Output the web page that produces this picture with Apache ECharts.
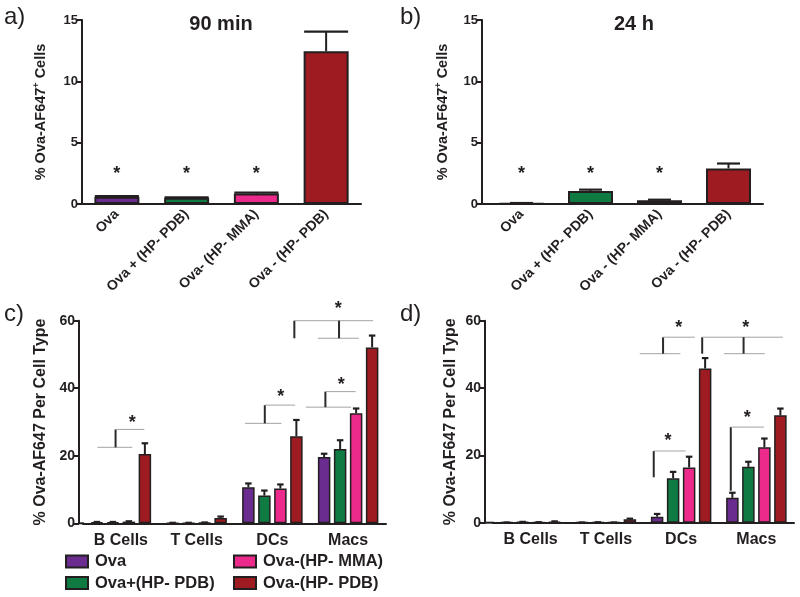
<!DOCTYPE html>
<html>
<head>
<meta charset="utf-8">
<script src="https://cdn.jsdelivr.net/npm/echarts@6/dist/echarts.min.js"></script>
<style>
html,body{margin:0;padding:0;background:#fff;}
#chart{width:800px;height:597px;}
</style>
</head>
<body>
<div id="chart"></div>
<script>
// ---------- data ----------
const topCatsA = ['Ova', 'Ova + (HP- PDB)', 'Ova- (HP- MMA)', 'Ova - (HP- PDB)'];
const topCatsB = ['Ova', 'Ova + (HP- PDB)', 'Ova - (HP- MMA)', 'Ova - (HP- PDB)'];
const min90Vals = [0.6, 0.5, 0.85, 12.45];
const min90Err = [0.05, 0.04, 0.08, 1.6];
const h24Vals = [0.05, 1.05, 0.3, 2.9];
const h24Err = [0.03, 0.12, 0.05, 0.4];
const min90Stars = [[0, 2.75], [1, 2.75], [2, 2.75]];
const h24Stars = [[0, 2.8], [1, 2.8], [2, 2.8]];
const yTicksTop = [0, 5, 10, 15];

const cellTypes = ['B Cells', 'T Cells', 'DCs', 'Macs'];
const seriesNames = ['Ova', 'Ova+(HP- PDB)', 'Ova-(HP- MMA)', 'Ova-(HP- PDB)'];
const cOva = [0.3, 0.1, 10.7, 19.6];
const cOvaErr = [0.1, 0.05, 1.1, 1.0];
const cOvaPlus = [0.3, 0.1, 8.2, 22.0];
const cOvaPlusErr = [0.1, 0.05, 1.5, 2.6];
const cMMA = [0.5, 0.2, 10.3, 32.6];
const cMMAErr = [0.1, 0.05, 1.2, 1.4];
const cPDB = [20.5, 1.6, 25.8, 52.1];
const cPDBErr = [3.2, 0.4, 4.8, 3.5];
const dOva = [0.05, 0.05, 1.8, 7.4];
const dOvaErr = [0.02, 0.02, 0.8, 1.5];
const dOvaPlus = [0.2, 0.1, 13.2, 16.6];
const dOvaPlusErr = [0.05, 0.05, 1.9, 1.5];
const dMMA = [0.1, 0.05, 16.4, 22.4];
const dMMAErr = [0.05, 0.02, 3.2, 2.6];
const dPDB = [0.3, 1.0, 45.8, 31.9];
const dPDBErr = [0.1, 0.2, 3.1, 2.0];
const yTicksBottom = [0, 20, 40, 60];

// significance brackets: [x1 (category units), v1, x2, v2, dark?]
const cBrackets = [
  [-0.31, 22.5, 0.15, 22.5, 0], [-0.07, 22.5, -0.07, 27.8, 1], [-0.07, 27.8, 0.31, 27.8, 0],
  [1.64, 29.6, 2.12, 29.6, 0], [1.90, 29.6, 1.90, 35, 1], [1.90, 35, 2.30, 35, 0],
  [2.44, 34.4, 3.04, 34.4, 0], [2.70, 34.4, 2.70, 39, 1], [2.70, 39, 3.10, 39, 0],
  [2.29, 54.8, 2.29, 60, 1], [2.29, 60, 3.33, 60, 0], [2.60, 54.8, 3.14, 54.8, 0], [2.88, 54.8, 2.88, 60, 1]
];
const cStars = [[0.15, 31], [2.11, 38.5], [2.91, 42.2], [2.87, 64.5]];
const dBrackets = [
  [1.636, 13.5, 1.636, 21.3, 1], [1.636, 21.3, 2.06, 21.3, 0],
  [1.45, 50.2, 1.99, 50.2, 0], [1.76, 50.2, 1.76, 55.1, 1], [1.76, 55.1, 2.18, 55.1, 0],
  [2.28, 50.2, 2.28, 55.1, 1], [2.28, 55.1, 3.35, 55.1, 0], [2.57, 50.2, 3.11, 50.2, 0], [2.83, 50.2, 2.83, 55.1, 1],
  [2.66, 9.5, 2.66, 28.4, 1], [2.66, 28.4, 3.10, 28.4, 0]
];
const dStars = [[1.826, 25.5], [1.97, 59], [2.86, 59], [2.88, 32.4]];

// ---------- styling ----------
const FONT = '"Liberation Sans", Arial, Helvetica, sans-serif';
const INK = '#231f20';
const COLORS = ['#6b2c8f', '#0f7b43', '#ec2a8b', '#9e1b21'];

const chart = echarts.init(document.getElementById('chart'), null, {renderer: 'canvas'});

const grids = [
  {left: 82, top: 20, width: 279, height: 184},
  {left: 487, top: 20, width: 276, height: 184},
  {left: 83, top: 320.7, width: 303, height: 202.6},
  {left: 493, top: 320.7, width: 301, height: 202}
];
const yOffsets = [0, 5, 4, 8];

function xAxisTop(gi, cats) {
  return {
    type: 'category', gridIndex: gi, data: cats,
    axisLine: {lineStyle: {color: INK, width: 2}},
    axisTick: {alignWithLabel: true, length: 5, lineStyle: {color: INK, width: 2}},
    axisLabel: {rotate: 45, fontFamily: FONT, fontWeight: 'bold', fontSize: 14, color: INK, margin: 8, interval: 0}
  };
}
function xAxisBottom(gi) {
  return {
    type: 'category', gridIndex: gi, data: cellTypes,
    axisLine: {lineStyle: {color: INK, width: 2}},
    axisTick: {alignWithLabel: true, length: 5, lineStyle: {color: INK, width: 2}},
    axisLabel: {fontFamily: FONT, fontWeight: 'bold', fontSize: 16, color: INK, margin: 9, interval: 0}
  };
}
function yAxis(gi, ticks, name, gap) {
  return {
    type: 'value', gridIndex: gi, min: ticks[0], max: ticks[ticks.length - 1],
    interval: ticks[1] - ticks[0], offset: yOffsets[gi],
    axisLine: {show: true, lineStyle: {color: INK, width: 2}},
    axisTick: {show: true, length: 5, lineStyle: {color: INK, width: 2}},
    splitLine: {show: false},
    axisLabel: {fontFamily: FONT, fontWeight: 'bold', fontSize: gi < 2 ? 13 : 14, color: INK, margin: 4},
    name: name, nameLocation: 'middle', nameGap: gap,
    nameTextStyle: {
      fontFamily: FONT, fontWeight: 'bold', fontSize: gi < 2 ? 14.5 : 16, color: INK,
      rich: {
        t: {fontFamily: FONT, fontWeight: 'bold', fontSize: 14.5, color: INK},
        sup: {fontFamily: FONT, fontWeight: 'bold', fontSize: 9, color: INK, padding: [0, 0, 9, 0]}
      }
    }
  };
}

function errRender(capW, spacing, gapLeft) {
  return function (params, api) {
    const cat = api.value(0), v = api.value(1), e = api.value(2), k = api.value(3);
    const p = api.coord([cat, v]);
    const q = api.coord([cat, v + e]);
    const x = p[0] + (k - 1.5) * spacing;
    const children = [
      {type: 'line', shape: {x1: x, y1: p[1], x2: x, y2: q[1]}, style: {stroke: INK, lineWidth: 2}},
      {type: 'line', shape: {x1: x - capW / 2, y1: q[1], x2: x + capW / 2, y2: q[1]}, style: {stroke: INK, lineWidth: 2.2}}
    ];
    if (params.dataIndex === 0 && gapLeft > 0) {
      const cs = params.coordSys;
      const yb = cs.y + cs.height;
      children.push({type: 'line', shape: {x1: cs.x - gapLeft, y1: yb, x2: cs.x + 1, y2: yb}, style: {stroke: INK, lineWidth: 2}});
    }
    return {type: 'group', children: children};
  };
}
function bracketRender(params, api) {
  const u1 = api.value(1), v1 = api.value(2), u2 = api.value(3), v2 = api.value(4), dark = api.value(5);
  const a0 = api.coord([0, v1]), a1 = api.coord([1, v1]);
  const band = a1[0] - a0[0];
  const b0 = api.coord([0, v2]);
  return {
    type: 'line',
    shape: {x1: a0[0] + u1 * band, y1: a0[1], x2: a0[0] + u2 * band, y2: b0[1]},
    style: {stroke: dark ? '#2a2a2a' : '#a3a3a3', lineWidth: dark ? 2 : 1}
  };
}
function starRender(params, api) {
  const u = api.value(1), v = api.value(2);
  const a0 = api.coord([0, v]), a1 = api.coord([1, v]);
  const band = a1[0] - a0[0];
  return {
    type: 'text',
    style: {x: a0[0] + u * band, y: a0[1] + 4, text: '*', fill: INK, font: 'bold 18px ' + FONT, align: 'center', verticalAlign: 'middle'}
  };
}

const series = [];
// panels a and b
[[min90Vals, min90Err, min90Stars, 44], [h24Vals, h24Err, h24Stars, 23]].forEach(function (cfg, gi) {
  const vals = cfg[0], errs = cfg[1], stars = cfg[2];
  series.push({
    type: 'bar', xAxisIndex: gi, yAxisIndex: gi, barWidth: 45,
    data: vals.map(function (v, i) { return {value: v, itemStyle: {color: COLORS[i]}}; }),
    itemStyle: {borderColor: INK, borderWidth: 2},
    silent: true, animation: false
  });
  series.push({
    type: 'custom', xAxisIndex: gi, yAxisIndex: gi, renderItem: errRender(cfg[3], 0, yOffsets[gi]),
    data: vals.map(function (v, i) { return [i, v, errs[i], 1.5]; }), z: 5, silent: true, animation: false
  });
  series.push({
    type: 'custom', xAxisIndex: gi, yAxisIndex: gi, renderItem: starRender,
    data: stars.map(function (s) { return [0, s[0], s[1]]; }), encode: {x: 0, y: 2}, z: 6, silent: true, animation: false
  });
});
// panels c and d
[
  [[cOva, cOvaPlus, cMMA, cPDB], [cOvaErr, cOvaPlusErr, cMMAErr, cPDBErr], cBrackets, cStars],
  [[dOva, dOvaPlus, dMMA, dPDB], [dOvaErr, dOvaPlusErr, dMMAErr, dPDBErr], dBrackets, dStars]
].forEach(function (cfg, j) {
  const gi = j + 2;
  const errData = [];
  cfg[0].forEach(function (vals, k) {
    series.push({
      type: 'bar', name: seriesNames[k], xAxisIndex: gi, yAxisIndex: gi, barWidth: 12.5, barGap: '28%',
      data: vals, itemStyle: {color: COLORS[k], borderColor: INK, borderWidth: 1.5},
      silent: true, animation: false
    });
    vals.forEach(function (v, i) { errData.push([i, v, cfg[1][k][i], k]); });
  });
  series.push({
    type: 'custom', xAxisIndex: gi, yAxisIndex: gi, renderItem: errRender(6.5, 16, yOffsets[gi]),
    data: errData, z: 5, silent: true, animation: false
  });
  series.push({
    type: 'custom', xAxisIndex: gi, yAxisIndex: gi, renderItem: bracketRender,
    data: cfg[2].map(function (b) { return [0, b[0], b[1], b[2], b[3], b[4]]; }), encode: {x: 0, y: 2},
    z: 6, silent: true, animation: false
  });
  series.push({
    type: 'custom', xAxisIndex: gi, yAxisIndex: gi, renderItem: starRender,
    data: cfg[3].map(function (s) { return [0, s[0], s[1]]; }), encode: {x: 0, y: 2}, z: 6, silent: true, animation: false
  });
});

const legendCommon = {
  orient: 'vertical', itemWidth: 22, itemHeight: 12, itemGap: 4.5,
  icon: 'rect', selectedMode: false,
  itemStyle: {borderColor: INK, borderWidth: 2},
  textStyle: {fontFamily: FONT, fontWeight: 'bold', fontSize: 16.5, color: INK, padding: [0, 0, 0, 2]},
  padding: 0
};

const option = {
  backgroundColor: '#ffffff',
  animation: false,
  grid: grids,
  title: [
    {text: '90 min', left: 216, top: 9, textAlign: 'center', textStyle: {fontFamily: FONT, fontWeight: 'bold', fontSize: 20, color: INK}},
    {text: '24 h', left: 629, top: 9, textAlign: 'center', textStyle: {fontFamily: FONT, fontWeight: 'bold', fontSize: 20, color: INK}}
  ],
  legend: [
    Object.assign({}, legendCommon, {left: 65, top: 553, data: seriesNames.slice(0, 2)}),
    Object.assign({}, legendCommon, {left: 233, top: 553, data: seriesNames.slice(2, 4)})
  ],
  xAxis: [xAxisTop(0, topCatsA), xAxisTop(1, topCatsB), xAxisBottom(2), xAxisBottom(3)],
  yAxis: [
    yAxis(0, yTicksTop, '{t|% Ova-AF647}{sup|+}{t| Cells}', 32),
    yAxis(1, yTicksTop, '{t|% Ova-AF647}{sup|+}{t| Cells}', 30),
    yAxis(2, yTicksBottom, '% Ova-AF647 Per Cell Type', 30),
    yAxis(3, yTicksBottom, '% Ova-AF647 Per Cell Type', 26)
  ],
  series: series,
  graphic: [
    {type: 'text', left: 4, top: 5, style: {text: 'a)', font: '24px ' + FONT, fill: INK}},
    {type: 'text', left: 400, top: 5, style: {text: 'b)', font: '24px ' + FONT, fill: INK}},
    {type: 'text', left: 4, top: 302, style: {text: 'c)', font: '24px ' + FONT, fill: INK}},
    {type: 'text', left: 400, top: 302, style: {text: 'd)', font: '24px ' + FONT, fill: INK}}
  ]
};
chart.setOption(option);
</script>
</body>
</html>
